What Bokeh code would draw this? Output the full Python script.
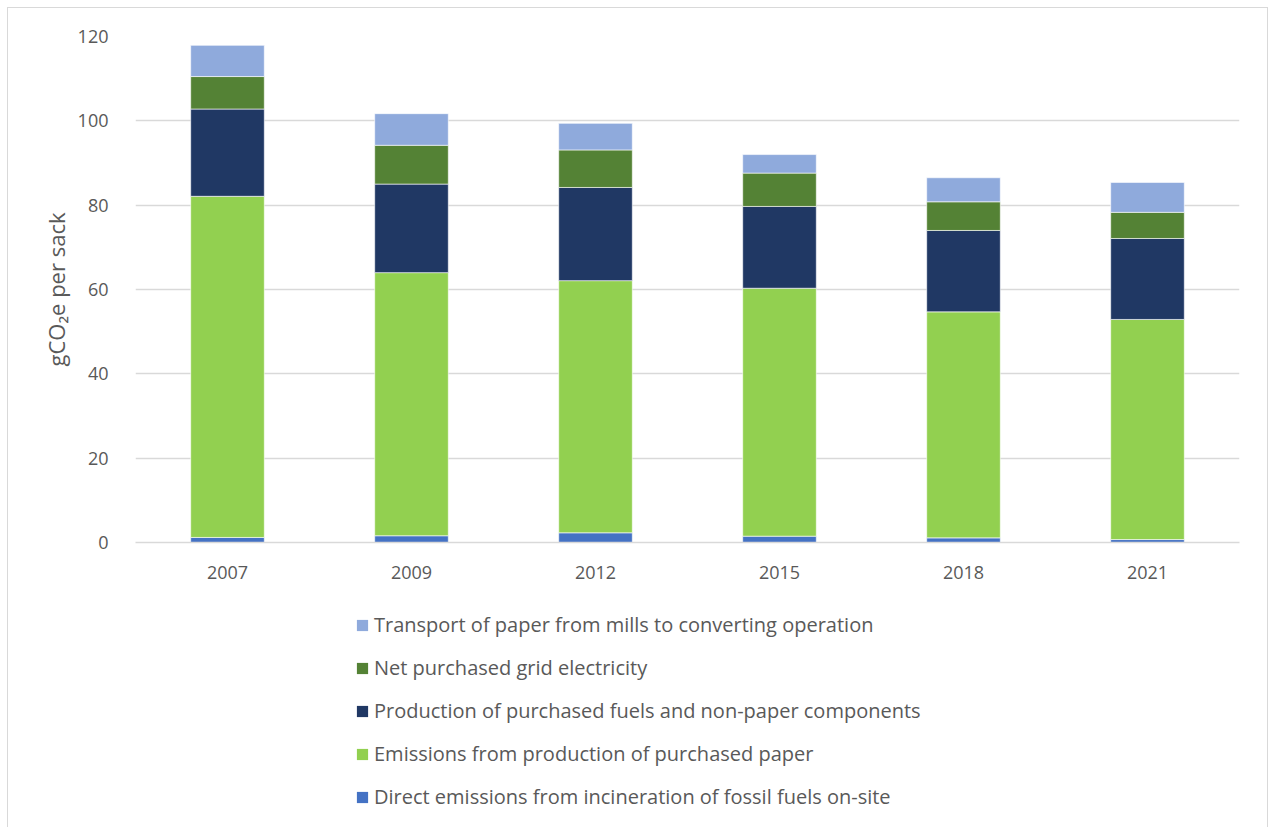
from bokeh.plotting import figure
from bokeh.layouts import column
from bokeh.models import ColumnDataSource, Range1d, Legend, LegendItem, FixedTicker
from bokeh.embed import file_html
from bokeh.resources import INLINE

years = ["2007", "2009", "2012", "2015", "2018", "2021"]
direct = [1.2, 1.6, 2.3, 1.5, 1.1, 0.7]
paper = [80.9, 62.4, 59.8, 58.8, 53.6, 52.2]
fuels = [20.7, 21.0, 22.1, 19.4, 19.3, 19.2]
grid = [7.7, 9.2, 8.9, 7.9, 6.8, 6.2]
transport = [7.4, 7.5, 6.3, 4.4, 5.7, 7.1]

series = ["direct", "paper", "fuels", "grid", "transport"]
labels = [
    "Direct emissions from incineration of fossil fuels on-site",
    "Emissions from production of purchased paper",
    "Production of purchased fuels and non-paper components",
    "Net purchased grid electricity",
    "Transport of paper from mills to converting operation",
]
colors = ["#4472C4", "#92D050", "#203864", "#548235", "#8FAADC"]

source = ColumnDataSource(dict(years=years, direct=direct, paper=paper, fuels=fuels,
                               grid=grid, transport=transport))

FONT = "Open Sans"
TXT = "#595959"

p = figure(x_range=years, y_range=Range1d(0, 120), width=1259, height=592,
           output_backend="svg", toolbar_location=None,
           min_border_left=127, min_border_right=28, min_border_top=28, min_border_bottom=58)
p.outline_line_color = None

p.vbar_stack(series, x="years", width=0.4, source=source, color=colors,
             line_color="white", line_width=0.6)

p.yaxis.ticker = FixedTicker(ticks=[0, 20, 40, 60, 80, 100, 120])
p.yaxis.axis_line_color = None
p.yaxis.major_tick_line_color = None
p.yaxis.minor_tick_line_color = None
p.yaxis.major_label_text_font = FONT
p.yaxis.major_label_text_font_size = "18px"
p.yaxis.major_label_text_color = TXT
p.yaxis.major_label_standoff = 21
p.yaxis.axis_label = "gCO\u2082e per sack"
p.yaxis.axis_label_text_font = FONT
p.yaxis.axis_label_text_font_size = "22px"
p.yaxis.axis_label_text_font_style = "normal"
p.yaxis.axis_label_text_color = TXT
p.yaxis.axis_label_standoff = 4

p.xaxis.axis_line_color = "#d9d9d9"
p.xaxis.axis_line_width = 1.5
p.xaxis.major_tick_line_color = None
p.xaxis.minor_tick_line_color = None
p.xaxis.major_label_text_font = FONT
p.xaxis.major_label_text_font_size = "18px"
p.xaxis.major_label_text_color = TXT
p.xaxis.major_label_standoff = 17

p.xgrid.grid_line_color = None
p.ygrid.grid_line_color = "#d9d9d9"
p.ygrid.grid_line_width = 1.5

# legend panel (separate figure so the legend is not clipped by the chart frame)
p2 = figure(x_range=years, y_range=Range1d(1000, 2000), width=1259, height=227,
            output_backend="svg", toolbar_location=None,
            min_border=0, x_axis_location=None, y_axis_location=None)
p2.outline_line_color = None
p2.grid.visible = False
leg_renderers = p2.vbar_stack(series, x="years", width=0.4, source=source, color=colors,
                              line_color=None)

items = [LegendItem(label=labels[i], renderers=[leg_renderers[i]]) for i in range(4, -1, -1)]
legend = Legend(items=items, location=(220, 17), orientation="vertical",
                label_text_font=FONT, label_text_font_size="20px", label_text_color=TXT,
                glyph_width=14, glyph_height=14, label_height=20, spacing=16,
                label_standoff=5, border_line_color=None, background_fill_alpha=0,
                padding=0, margin=0)
p2.add_layout(legend, "center")

layout = column(p, p2, spacing=0,
                styles={"border": "1px solid #d9d9d9", "margin-left": "7px", "margin-top": "7px"})

open("out.html", "w").write(file_html(layout, INLINE))
